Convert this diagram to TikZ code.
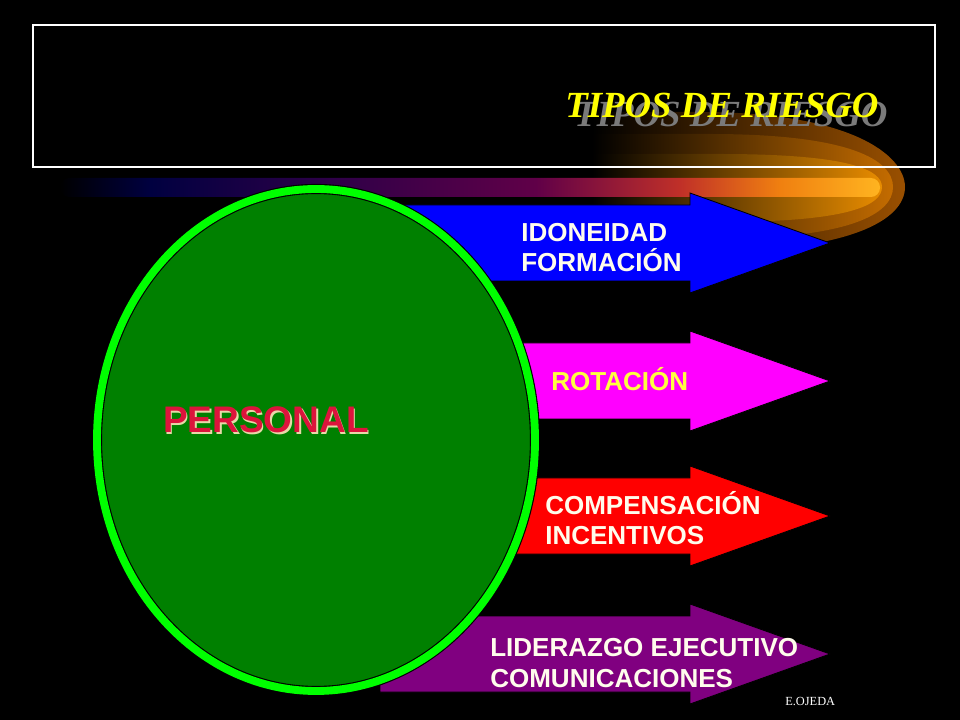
\documentclass[tikz,border=0pt]{standalone}
\usepackage{fontspec}
\setmainfont{Liberation Serif}
\setsansfont{Liberation Sans}
\definecolor{titleyellow}{HTML}{FFFF00}
\definecolor{titleshadow}{HTML}{7A7A7A}
\definecolor{flareout}{HTML}{9A5000}
\definecolor{flaremid}{HTML}{C46C00}
\definecolor{flarein}{HTML}{E88C00}
\definecolor{barnavy}{HTML}{000040}
\definecolor{barviolet}{HTML}{300048}
\definecolor{barplum}{HTML}{600048}
\definecolor{barred}{HTML}{C03028}
\definecolor{barorange}{HTML}{F08010}
\definecolor{barend}{HTML}{FFB420}
\definecolor{idoblue}{HTML}{0000FF}
\definecolor{rotmagenta}{HTML}{FF00FF}
\definecolor{comred}{HTML}{FF0000}
\definecolor{lidpurple}{HTML}{800080}
\definecolor{personalgreen}{HTML}{008000}
\definecolor{personalring}{HTML}{00FF00}
\definecolor{personalred}{HTML}{DC143C}
\definecolor{personalshadow}{HTML}{E8D8A8}
\definecolor{labelwhite}{HTML}{FFFCEC}
\definecolor{rotyellow}{HTML}{FFFF40}
\pgfdeclarehorizontalshading{cometbar}{100bp}{color(0bp)=(black); color(25bp)=(black);
  color(30.5bp)=(barnavy); color(42bp)=(barviolet); color(54bp)=(barplum);
  color(62.8bp)=(barred); color(68.9bp)=(barorange); color(75bp)=(barend); color(100bp)=(barend)}

\begin{document}
\begin{tikzpicture}[x=0.025cm,y=-0.025cm]

      \fill[black] (0,0) rectangle (960,720);
      \useasboundingbox (0,0) rectangle (960,720);

      % flare behind the title
      \shade[left color=black, right color=flareout]
        (592,112) -- (700,112) .. controls (850,112) and (905,155) .. (905,187)
        .. controls (905,220) and (850,252) .. (700,252) -- (592,252) -- cycle;
      \shade[left color=black, right color=flaremid]
        (592,134) -- (710,134) .. controls (850,134) and (893,160) .. (893,187)
        .. controls (893,214) and (850,239) .. (710,239) -- (592,239) -- cycle;
      \shade[left color=black, right color=flarein]
        (592,154) -- (720,154) .. controls (850,154) and (882,170) .. (882,187)
        .. controls (882,205) and (850,222) .. (720,222) -- (592,222) -- cycle;
      \shade[shading=cometbar, rounded corners=6.5pt] (60,178) rectangle (880,197);

      \draw[white, line width=0.8pt] (33,25) rectangle (935,167);

      \begin{scope}[every node/.style={anchor=base west, inner sep=0pt,
          font=\bfseries\itshape\fontsize{26.2}{30}\selectfont}]
        \node[text=titleshadow] (titleshadow) at (574,127) {TIPOS DE RIESGO};
        \node[text=titleyellow] (title) at (565,118) {TIPOS DE RIESGO};
      \end{scope}

      % arrows
      \foreach \col/\yc in {idoblue/243, rotmagenta/381, comred/516, lidpurple/654}
        \filldraw[fill=\col, draw=black, line width=0.6pt]
          (380,\yc-38) -- (690,\yc-38) -- (690,\yc-50) -- (830,\yc)
          -- (690,\yc+50) -- (690,\yc+38) -- (380,\yc+38) -- cycle;

      % personal
      \filldraw[fill=personalgreen, draw=black, line width=7.2pt]
        (316,440) ellipse [x radius=219, y radius=251];
      \draw[personalring, line width=5.6pt] (316,440) ellipse [x radius=219, y radius=251];

      \begin{scope}[every node/.style={anchor=base west, inner sep=0pt,
          font=\sffamily\bfseries\fontsize{26.3}{30}\selectfont}]
        \node[text=personalshadow] (personalshadow) at (164.5,434.5) {PERSONAL};
        \node[text=personalred] (personal) at (163,433) {PERSONAL};
      \end{scope}

      % base of a two-line node is the baseline of its last line
      \begin{scope}[every node/.style={anchor=base west, align=left, inner sep=0pt,
          text=labelwhite, font=\sffamily\bfseries\fontsize{18.5}{21.5}\selectfont}]
        \node (idoneidad) at (521,272) {IDONEIDAD\\FORMACIÓN};
        \node[text=rotyellow] (rotacion) at (551,391) {ROTACIÓN};
        \node (compensacion) at (545,545) {COMPENSACIÓN\\INCENTIVOS};
        \node (liderazgo) at (490,687) {LIDERAZGO EJECUTIVO\\COMUNICACIONES};
      \end{scope}

      \node[anchor=base west, inner sep=0pt, text=white, font=\fontsize{8.8}{10}\selectfont] (autor) at (785,705) {E.OJEDA};

    \end{tikzpicture}
\end{document}
